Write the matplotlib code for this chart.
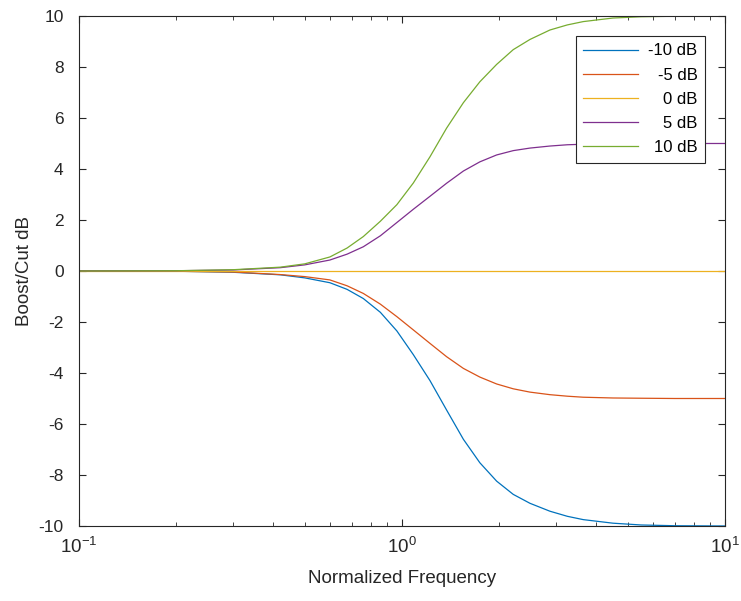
import numpy as np
import matplotlib.pyplot as plt

plt.rcParams['font.family'] = ['Liberation Sans', 'DejaVu Sans']
plt.rcParams['axes.unicode_minus'] = False
plt.rcParams['mathtext.default'] = 'regular'

# normalized frequency points
freq = [0.1, 0.2, 0.3, 0.42, 0.5, 0.598, 0.676, 0.759, 0.857, 0.964, 1.084, 1.221,
        1.374, 1.549, 1.742, 1.963, 2.21, 2.49, 2.87, 3.25, 3.64, 4.5, 5.5, 7.0, 10.0]

cut10 = [0.0, -0.01, -0.05, -0.15, -0.27, -0.46, -0.72, -1.08, -1.62, -2.35, -3.28, -4.3,
         -5.45, -6.6, -7.52, -8.24, -8.76, -9.11, -9.42, -9.62, -9.75, -9.89, -9.96, -9.99, -10.0]
cut5 = [0.0, -0.01, -0.04, -0.14, -0.22, -0.35, -0.58, -0.88, -1.3, -1.79, -2.31, -2.84,
        -3.36, -3.82, -4.16, -4.43, -4.62, -4.75, -4.85, -4.91, -4.95, -4.98, -4.99, -5.0, -5.0]
flat0 = [0.0] * len(freq)
boost5 = [0.0, 0.01, 0.04, 0.13, 0.24, 0.43, 0.66, 0.95, 1.38, 1.9, 2.42, 2.93,
          3.44, 3.92, 4.28, 4.55, 4.72, 4.82, 4.9, 4.95, 4.97, 4.99, 5.0, 5.0, 5.0]
boost10 = [0.0, 0.01, 0.05, 0.15, 0.28, 0.55, 0.9, 1.35, 1.95, 2.6, 3.45, 4.48,
           5.6, 6.6, 7.42, 8.1, 8.68, 9.08, 9.45, 9.65, 9.78, 9.92, 9.97, 9.99, 10.0]

series = [cut10, cut5, flat0, boost5, boost10]
labels = ['-10 dB', '-5 dB', '0 dB', '5 dB', '10 dB']
colors = ['#0072BD', '#D95319', '#EDB120', '#7E2F8E', '#77AC30']

fig = plt.figure(figsize=(7.41, 6.01), dpi=100)
ax = fig.add_axes([0.1066, 0.1248, 0.8718, 0.8486])

for vals, lab, c in zip(series, labels, colors):
    ax.semilogx(freq, vals, color=c, linewidth=0.9, label=lab)

ax.set_xlim(0.1, 10)
ax.set_ylim(-10, 10)
ax.set_yticks(np.arange(-10, 11, 2))

axcol = '#262626'
for s in ax.spines.values():
    s.set_color(axcol)
    s.set_linewidth(0.8)
ax.tick_params(which='both', direction='in', top=True, right=True, colors=axcol,
               labelsize=12.5)
ax.tick_params(which='major', length=5)
ax.tick_params(which='minor', length=3)
ax.tick_params(axis='x', which='major', pad=8, labelsize=13.5)
ax.tick_params(axis='y', which='major', pad=11)

ax.set_xlabel('Normalized Frequency', fontsize=13.5, color=axcol, labelpad=9)
ax.set_ylabel('Boost/Cut dB', fontsize=13.5, color=axcol, labelpad=4)

leg = ax.legend(loc='upper right', bbox_to_anchor=(0.969, 0.961), fontsize=12,
                fancybox=False, framealpha=1, edgecolor=axcol, handlelength=3.3,
                borderaxespad=0, labelspacing=0.55, borderpad=0.45, handletextpad=0.6)
leg.get_frame().set_linewidth(0.8)

# right-align legend labels like the reference
fig.canvas.draw()
texts = leg.get_texts()
widths = [t.get_window_extent().width for t in texts]
for t, w in zip(texts, widths):
    t.set_position((max(widths) - w, 0))

fig.savefig('out.png', dpi=100)
